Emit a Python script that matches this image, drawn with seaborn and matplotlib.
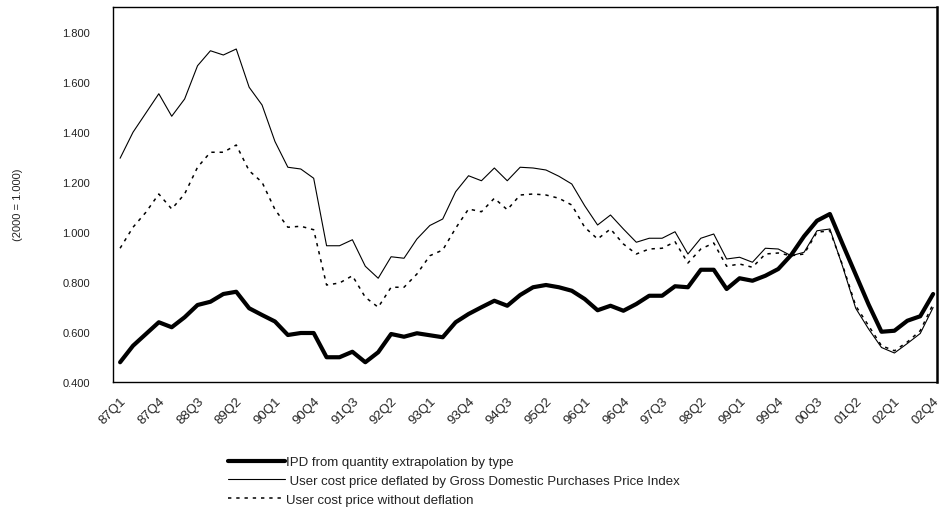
import numpy as np
import pandas as pd
import matplotlib
matplotlib.use("Agg")
import matplotlib.pyplot as plt
import seaborn as sns

# ---------------- data ----------------
years = list(range(1987, 2003))
quarters = [f"{y % 100:02d}Q{q}" for y in years for q in (1, 2, 3, 4)]  # 87Q1 .. 02Q4

ipd_quantity = [
    0.479, 0.545, 0.592, 0.639, 0.619, 0.659, 0.708, 0.721, 0.752, 0.761,
    0.695, 0.668, 0.642, 0.588, 0.596, 0.596, 0.499, 0.499, 0.521, 0.479,
    0.519, 0.592, 0.581, 0.595, 0.587, 0.579, 0.639, 0.672, 0.699, 0.725,
    0.705, 0.748, 0.779, 0.788, 0.779, 0.765, 0.732, 0.687, 0.705, 0.685,
    0.712, 0.745, 0.745, 0.783, 0.779, 0.849, 0.849, 0.772, 0.815, 0.805,
    0.825, 0.852, 0.908, 0.983, 1.045, 1.072, 0.950, 0.830, 0.710, 0.601,
    0.605, 0.645, 0.663, 0.752,
]
user_cost_deflated = [
    1.295, 1.399, 1.476, 1.553, 1.463, 1.532, 1.665, 1.725, 1.708, 1.732,
    1.579, 1.508, 1.362, 1.259, 1.252, 1.215, 0.945, 0.945, 0.969, 0.863,
    0.815, 0.901, 0.895, 0.972, 1.026, 1.052, 1.161, 1.225, 1.205, 1.256,
    1.205, 1.259, 1.256, 1.248, 1.223, 1.192, 1.105, 1.028, 1.068, 1.012,
    0.959, 0.975, 0.975, 1.001, 0.912, 0.975, 0.992, 0.892, 0.899, 0.879,
    0.935, 0.932, 0.905, 0.919, 1.005, 1.012, 0.860, 0.695, 0.612, 0.538,
    0.516, 0.554, 0.594, 0.698,
]
user_cost_nominal = [
    0.935, 1.019, 1.079, 1.152, 1.092, 1.152, 1.259, 1.319, 1.319, 1.348,
    1.245, 1.199, 1.090, 1.019, 1.023, 1.009, 0.788, 0.796, 0.825, 0.739,
    0.699, 0.779, 0.779, 0.832, 0.905, 0.928, 1.015, 1.092, 1.081, 1.135,
    1.089, 1.148, 1.152, 1.148, 1.135, 1.108, 1.019, 0.972, 1.012, 0.952,
    0.912, 0.932, 0.935, 0.961, 0.876, 0.932, 0.956, 0.863, 0.872, 0.859,
    0.912, 0.916, 0.905, 0.912, 0.999, 1.005, 0.865, 0.705, 0.625, 0.545,
    0.525, 0.560, 0.605, 0.712,
]

labels = [
    "IPD from quantity extrapolation by type",
    " User cost price deflated by Gross Domestic Purchases Price Index",
    "User cost price without deflation",
]
y_ticks = [0.4, 0.6, 0.8, 1.0, 1.2, 1.4, 1.6, 1.8]

# ---------------- plot ----------------
sns.set_theme(style="white")
plt.rcParams["font.family"] = ["Liberation Sans", "DejaVu Sans"]

fig = plt.figure(figsize=(9.43, 5.10), dpi=100)
ax = fig.add_axes([113 / 943, 1 - 383 / 510, (937 - 113) / 943, (383 - 8) / 510])

df = pd.DataFrame({
    "pos": np.arange(len(quarters)),
    "q": quarters,
    "ipd": ipd_quantity,
    "defl": user_cost_deflated,
    "nom": user_cost_nominal,
})

sns.lineplot(data=df, x="pos", y="ipd", ax=ax, color="black", lw=3.0,
             label=labels[0])
sns.lineplot(data=df, x="pos", y="defl", ax=ax, color="black", lw=0.8,
             label=labels[1])
sns.lineplot(data=df, x="pos", y="nom", ax=ax, color="black", lw=1.1,
             linestyle=(0, (2.2, 3.2)), label=labels[2])

ax.set_xlim(-0.55, len(quarters) - 1 + 0.3)
ax.set_ylim(0.4, 1.9)
ax.set_xlabel("")
ax.set_ylabel("")

tick_pos = np.arange(0, len(quarters), 3)
ax.set_xticks(tick_pos)
ax.set_xticklabels([quarters[i] for i in tick_pos], rotation=45, ha="right",
                   rotation_mode="anchor", fontsize=9.5, color="#222222")
ax.set_xticks(np.arange(len(quarters)), minor=True)
ax.set_yticks(y_ticks)
ax.set_yticklabels([f"{v:.3f}" for v in y_ticks], fontsize=8, color="#222222")

ax.tick_params(axis="x", which="major", direction="in", length=4, width=0.8,
               pad=9, color="black")
ax.tick_params(axis="x", which="minor", direction="in", length=2.5, width=0.6,
               color="black")
ax.tick_params(axis="y", which="major", direction="in", length=3, width=0.8,
               pad=16.5, color="black")

for s in ax.spines.values():
    s.set_color("black")
    s.set_linewidth(1.0)
ax.spines["right"].set_linewidth(1.8)
ax.grid(False)

fig.text(18 / 943, 1 - 205 / 510, "(2000 = 1.000)", rotation=90, fontsize=8,
         ha="center", va="center", color="#222222")

leg = ax.legend(loc="upper left", bbox_to_anchor=(228 / 943, 1 - 457 / 510),
                bbox_transform=fig.transFigure, frameon=False, fontsize=9.5,
                handlelength=4.3, handletextpad=0.1, labelspacing=0.5,
                borderpad=0, borderaxespad=0)
for t in leg.get_texts():
    t.set_color("#222222")

fig.savefig("out.png", dpi=100, facecolor="white")
